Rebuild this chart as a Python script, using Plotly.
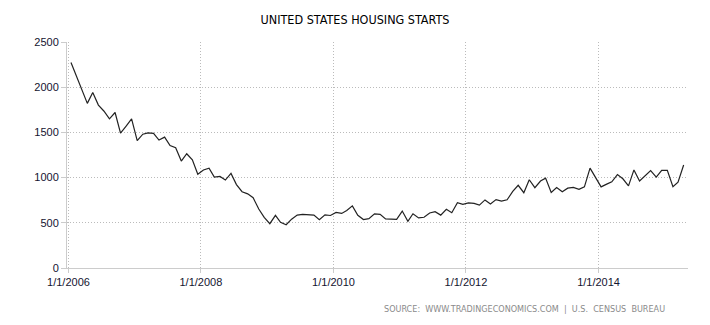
import plotly.graph_objects as go
import pandas as pd

# Monthly US housing starts (thousands of units, SAAR), Jan 2006 - Apr 2015
start_month = "2006-01-01"
housing_starts = [
    # 2006
    2273, 2119, 1969, 1821, 1942, 1802, 1737, 1650, 1720, 1491, 1570, 1649,
    # 2007
    1409, 1480, 1495, 1490, 1415, 1448, 1354, 1330, 1183, 1264, 1197, 1037,
    # 2008
    1084, 1103, 1005, 1013, 973, 1046, 923, 844, 820, 777, 652, 560,
    # 2009
    490, 582, 505, 478, 540, 585, 594, 586, 585, 534, 588, 581,
    # 2010
    614, 604, 636, 687, 583, 536, 546, 599, 594, 543, 545, 539,
    # 2011
    630, 517, 600, 554, 561, 608, 623, 585, 650, 611, 723, 704,
    # 2012
    720, 715, 695, 753, 708, 757, 740, 754, 847, 915, 833, 976,
    # 2013
    888, 962, 994, 835, 891, 844, 883, 891, 870, 898, 1105, 1003,
    # 2014
    897, 928, 954, 1034, 987, 909, 1085, 962, 1025, 1077, 1005, 1081,
    # 2015
    1080, 900, 950, 1140,
]
# points sit mid-month
months = pd.date_range(start_month, periods=len(housing_starts), freq="MS") + pd.Timedelta(days=14)

x_tick_values = ["2006-01-01", "2008-01-01", "2010-01-01", "2012-01-01", "2014-01-01"]
x_tick_labels = ["1/1/2006", "1/1/2008", "1/1/2010", "1/1/2012", "1/1/2014"]
y_tick_values = [0, 500, 1000, 1500, 2000, 2500]

label_font = dict(family="Liberation Sans, Arial, sans-serif", size=11, color="#141430")
grid_dash = "1px,2px"

fig = go.Figure(
    go.Scatter(
        x=months,
        y=housing_starts,
        mode="lines",
        line=dict(color="#222222", width=1.2),
        hoverinfo="x+y",
    )
)

fig.update_layout(
    width=710,
    height=325,
    margin=dict(l=67, r=22, t=42, b=57),
    paper_bgcolor="white",
    plot_bgcolor="white",
    showlegend=False,
    title=dict(
        text="UNITED STATES HOUSING STARTS",
        x=0.5,
        xanchor="center",
        y=1 - 20 / 325,
        yanchor="middle",
        font=dict(family="DejaVu Sans Condensed, DejaVu Sans, sans-serif",
                  size=12.5, color="#000000"),
    ),
    xaxis=dict(
        type="date",
        range=["2005-12-24", "2015-05-09"],
        tickvals=x_tick_values,
        ticktext=x_tick_labels,
        tickfont=label_font,
        showgrid=True,
        gridcolor="#bbbbbb",
        griddash=grid_dash,
        gridwidth=1,
        showline=True,
        linecolor="#cccccc",
        linewidth=1,
        ticks="outside",
        ticklen=4,
        tickcolor="#cccccc",
        zeroline=False,
    ),
    yaxis=dict(
        range=[0, 2500],
        tickvals=y_tick_values,
        tickfont=label_font,
        showgrid=True,
        gridcolor="#bbbbbb",
        griddash=grid_dash,
        gridwidth=1,
        showline=True,
        linecolor="#cccccc",
        linewidth=1,
        ticks="outside",
        ticklen=5,
        tickcolor="#cccccc",
        zeroline=False,
    ),
)

fig.add_annotation(
    text="SOURCE:  WWW.TRADINGECONOMICS.COM  |  U.S.  CENSUS  BUREAU",
    xref="paper", yref="paper",
    x=(667 - 67) / 621, y=-(309 - 268) / 226,
    xanchor="right", yanchor="middle",
    showarrow=False,
    font=dict(family="DejaVu Sans Condensed, DejaVu Sans, sans-serif", size=9, color="#8a8a8a"),
)

fig.write_html("out.html")
